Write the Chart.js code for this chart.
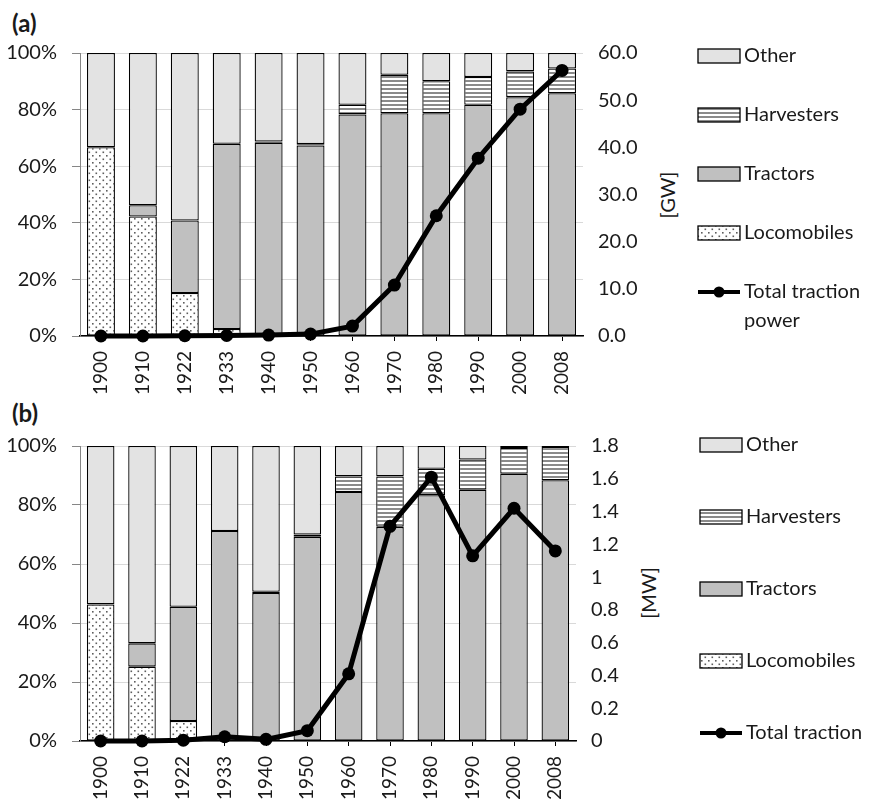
<!DOCTYPE html>
<html>
<head>
<meta charset="utf-8">
<script src="https://cdn.jsdelivr.net/npm/chart.js@4.4.1/dist/chart.umd.min.js"></script>
<style>
  body { margin: 0; background: #fff; width: 882px; height: 807px; position: relative; overflow: hidden; font-family: Lato, sans-serif; color: #1a1a1a; }
  canvas { position: absolute; left: 0; }
  #chartA { top: 0; }
  #chartB { top: 400px; }
  .tag { position: absolute; left: 12px; font: bold 24px Lato, sans-serif; line-height: 1; }
  .unit { position: absolute; font: 20px Lato, sans-serif; line-height: 1; white-space: nowrap; transform: translate(-50%, -50%) rotate(-90deg); }
</style>
</head>
<body>
<div class="tag" style="top:11px">(a)</div>
<div class="tag" style="top:401px">(b)</div>
<div class="unit" style="left:667px; top:195px">[GW]</div>
<div class="unit" style="left:648px; top:593px">[MW]</div>
<canvas id="chartA" width="882" height="400"></canvas>
<canvas id="chartB" width="882" height="407"></canvas>
<script>
// categories
const years = ['1900', '1910', '1922', '1933', '1940', '1950', '1960', '1970', '1980', '1990', '2000', '2008'];

// (a) shares of traction power [%]
const locoA  = [66.7, 42.2, 15.2, 2.5, 0, 0, 0, 0, 0, 0, 0, 0];
const tractA = [0, 4.0, 25.6, 65.4, 68.3, 67.3, 78.3, 78.7, 78.7, 81.7, 84.4, 85.8];
const harvA  = [0, 0, 0, 0, 0.4, 0.5, 3.4, 13.6, 11.3, 9.8, 9.1, 8.7];
const otherA = [33.3, 53.8, 59.2, 32.1, 31.3, 32.2, 18.3, 7.7, 10.0, 8.5, 6.5, 5.5];
const powerA = [0, 0, 0.05, 0.1, 0.2, 0.4, 2.1, 10.8, 25.5, 37.7, 48.1, 56.3]; // GW

// (b) shares [%]
const locoB  = [46.3, 25.2, 6.8, 0, 0, 0, 0, 0, 0, 0, 0, 0];
const tractB = [0, 7.9, 38.7, 71.2, 50.2, 69.2, 84.4, 72.6, 83.3, 85.2, 90.6, 88.4];
const harvB  = [0, 0, 0, 0, 0.4, 0.8, 5.3, 17.1, 9.0, 10.2, 8.7, 11.3];
const otherB = [53.7, 66.9, 54.5, 28.8, 49.4, 30.0, 10.3, 10.3, 7.7, 4.6, 0.7, 0.3];
const powerB = [0, 0, 0.005, 0.026, 0.01, 0.063, 0.41, 1.31, 1.61, 1.13, 1.42, 1.16]; // MW

// tick labels
const pctTicks = ['0%', '20%', '40%', '60%', '80%', '100%'];
const gwTicks = ['0.0', '10.0', '20.0', '30.0', '40.0', '50.0', '60.0'];
const mwTicks = ['0', '0.2', '0.4', '0.6', '0.8', '1', '1.2', '1.4', '1.6', '1.8'];

Chart.defaults.font.family = 'Lato, sans-serif';
Chart.defaults.font.size = 20;
Chart.defaults.color = '#1a1a1a';

function makePattern(kind) {
  const c = document.createElement('canvas');
  const g = c.getContext('2d');
  if (kind === 'dots') {
    c.width = 7; c.height = 7;
    g.fillStyle = '#fff'; g.fillRect(0, 0, 7, 7);
    g.fillStyle = '#5e5e5e';
    g.fillRect(1, 1, 1.6, 1.6);
    g.fillRect(4.5, 4.5, 1.6, 1.6);
  } else {
    c.width = 4; c.height = 4;
    g.fillStyle = '#fff'; g.fillRect(0, 0, 4, 4);
    g.fillStyle = '#8a8a8a'; g.fillRect(0, 0, 4, 2);
  }
  return g.createPattern(c, 'repeat');
}

const DOTS = makePattern('dots');
const STRIPES = makePattern('stripes');

// legend to the right of the plot
const sideLegend = {
  id: 'sideLegend',
  afterDraw(chart, args, opts) {
    const ctx = chart.ctx;
    ctx.save();
    ctx.font = '20px Lato, sans-serif';
    ctx.textBaseline = 'middle';
    opts.items.forEach((it, i) => {
      const ds = chart.data.datasets[it.ds];
      const y = opts.top + i * opts.step;
      if (ds.type === 'line') {
        ctx.strokeStyle = '#000';
        ctx.lineWidth = 4;
        ctx.beginPath();
        ctx.moveTo(opts.x, y);
        ctx.lineTo(opts.x + 42, y);
        ctx.stroke();
        ctx.fillStyle = '#000';
        ctx.beginPath();
        ctx.arc(opts.x + 21, y, 5.5, 0, Math.PI * 2);
        ctx.fill();
      } else {
        ctx.fillStyle = ds.backgroundColor;
        ctx.fillRect(opts.x, y - 7, 42, 14);
        ctx.strokeStyle = '#000';
        ctx.lineWidth = 1.3;
        ctx.strokeRect(opts.x, y - 7, 42, 14);
      }
      ctx.fillStyle = '#1a1a1a';
      it.text.forEach((t, k) => ctx.fillText(t, opts.x + 46, y + k * 29));
    });
    ctx.restore();
  }
};

function makePanel(id, p) {
  const barDs = (label, data, bg) => ({
    type: 'bar', label, data, backgroundColor: bg,
    borderColor: '#000', borderWidth: 1.3, borderSkipped: false,
    barPercentage: 0.667, categoryPercentage: 1, order: 1, yAxisID: 'y'
  });
  return new Chart(document.getElementById(id), {
    data: {
      labels: years,
      datasets: [
        {
          type: 'line', label: 'Total traction', data: p.power, yAxisID: 'y1', order: 0,
          borderColor: '#000', borderWidth: 5, pointRadius: 6.5, pointHoverRadius: 6.5,
          pointBackgroundColor: '#000', pointBorderWidth: 0, tension: 0, clip: false
        },
        barDs('Locomobiles', p.loco, DOTS),
        barDs('Tractors', p.tract, '#c0c0c0'),
        barDs('Harvesters', p.harv, STRIPES),
        barDs('Other', p.other, '#e3e3e3'),
      ],
    },
    options: {
      responsive: false,
      animation: false,
      events: [],
      layout: { padding: { top: p.top, right: p.right, bottom: 0, left: 0 } },
      plugins: {
        legend: { display: false },
        tooltip: { enabled: false },
        sideLegend: { x: p.legX, top: p.legTop, step: p.legStep, items: p.legItems },
      },
      scales: {
        x: {
          stacked: true,
          offset: true,
          grid: { offset: false, drawOnChartArea: false, color: '#000', tickLength: 5 },
          border: { color: '#000', width: 1.5 },
          ticks: { minRotation: 90, maxRotation: 90, padding: 10, font: { size: 19 }, autoSkip: false },
          afterFit(s) { s.height = p.xH; },
        },
        y: {
          stacked: true, min: 0, max: 100,
          ticks: { stepSize: 20, padding: 15, callback: (v, i) => pctTicks[i] },
          grid: { color: '#d9d9d9', tickColor: '#868686', tickLength: 8 },
          border: { color: '#868686', width: 1 },
          afterFit(s) { s.width = 80; },
        },
        y1: {
          position: 'right', min: 0, max: p.max,
          ticks: { stepSize: p.step, padding: 15, callback: (v, i) => p.ticks[i] },
          grid: { display: false, drawTicks: false },
          border: { display: false },
          afterFit(s) { s.width = 100; },
        },
      },
    },
    plugins: [sideLegend],
  });
}

makePanel('chartA', {
  loco: locoA, tract: tractA, harv: harvA, other: otherA, power: powerA,
  max: 60, step: 10, ticks: gwTicks,
  top: 53, right: 199, xH: 64,
  legX: 698, legTop: 56, legStep: 59,
  legItems: [
    { ds: 4, text: ['Other'] },
    { ds: 3, text: ['Harvesters'] },
    { ds: 2, text: ['Tractors'] },
    { ds: 1, text: ['Locomobiles'] },
    { ds: 0, text: ['Total traction', 'power'] },
  ],
});

makePanel('chartB', {
  loco: locoB, tract: tractB, harv: harvB, other: otherB, power: powerB,
  max: 1.8, step: 0.2, ticks: mwTicks,
  top: 46, right: 206, xH: 66,
  legX: 700, legTop: 45, legStep: 72,
  legItems: [
    { ds: 4, text: ['Other'] },
    { ds: 3, text: ['Harvesters'] },
    { ds: 2, text: ['Tractors'] },
    { ds: 1, text: ['Locomobiles'] },
    { ds: 0, text: ['Total traction'] },
  ],
});
</script>
</body>
</html>
